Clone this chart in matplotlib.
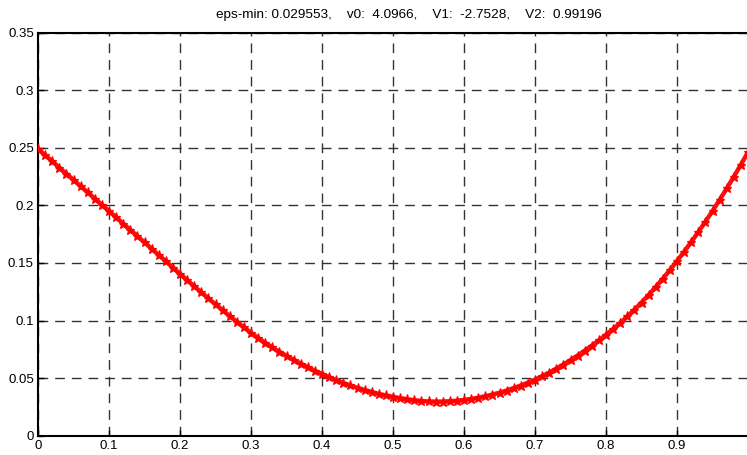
import matplotlib
matplotlib.use("Agg")
import matplotlib.pyplot as plt
import numpy as np

plt.rcParams['font.family'] = ['Liberation Sans', 'DejaVu Sans']

t_values = [i / 100 for i in range(101)]
eps_values = [
    0.2490, 0.2436, 0.2382, 0.2328, 0.2274, 0.2220, 0.2166, 0.2112, 0.2058, 0.2004,
    0.1950, 0.1896, 0.1841, 0.1787, 0.1732, 0.1678, 0.1623, 0.1569, 0.1514, 0.1460,
    0.1405, 0.1351, 0.1297, 0.1244, 0.1192, 0.1140, 0.1089, 0.1039, 0.0989, 0.0941,
    0.0893, 0.0849, 0.0806, 0.0766, 0.0729, 0.0693, 0.0659, 0.0626, 0.0594, 0.0564,
    0.0535, 0.0508, 0.0482, 0.0458, 0.0436, 0.0415, 0.0396, 0.0379, 0.0363, 0.0349,
    0.0337, 0.0326, 0.0316, 0.0308, 0.0301, 0.0297, 0.0296, 0.0296, 0.0299, 0.0304,
    0.0310, 0.0319, 0.0330, 0.0342, 0.0357, 0.0373, 0.0392, 0.0413, 0.0435, 0.0460,
    0.0486, 0.0516, 0.0548, 0.0582, 0.0618, 0.0656, 0.0696, 0.0738, 0.0782, 0.0828,
    0.0876, 0.0926, 0.0979, 0.1035, 0.1094, 0.1156, 0.1222, 0.1291, 0.1363, 0.1438,
    0.1516, 0.1597, 0.1681, 0.1768, 0.1858, 0.1951, 0.2047, 0.2146, 0.2248, 0.2353,
    0.2461,
]
x_ticks = [0, 0.1, 0.2, 0.3, 0.4, 0.5, 0.6, 0.7, 0.8, 0.9]
x_tick_labels = ['0', '0.1', '0.2', '0.3', '0.4', '0.5', '0.6', '0.7', '0.8', '0.9']
y_ticks = [0, 0.05, 0.1, 0.15, 0.2, 0.25, 0.3, 0.35]
y_tick_labels = ['0', '0.05', '0.1', '0.15', '0.2', '0.25', '0.3', '0.35']
title_text = 'eps-min: 0.029553,    v0:  4.0966,    V1:  -2.7528,    V2:  0.99196'

fig = plt.figure(figsize=(7.47, 4.55), dpi=100)
ax = fig.add_axes([38 / 747, (455 - 435.7) / 455, 710 / 747, (435.7 - 32.5) / 455])

ax.plot(t_values, eps_values, color='#ff1010', linewidth=3.2, solid_capstyle='round', zorder=3)
ax.plot(t_values, eps_values, linestyle='none', marker='*', markersize=6.5,
        color='red', markeredgewidth=0.9, zorder=4)

ax.set_xlim(0, 1.0)
ax.set_ylim(0, 0.35)
ax.set_xticks(x_ticks)
ax.set_xticklabels(x_tick_labels)
ax.set_yticks(y_ticks)
ax.set_yticklabels(y_tick_labels)
ax.tick_params(direction='in', length=4, width=1, labelsize=9.5, pad=3, colors='black')

ax.grid(True, color='0.2', linestyle=(0, (7, 5)), linewidth=1.0)
ax.set_axisbelow(True)

for side in ['left', 'bottom', 'top']:
    ax.spines[side].set_linewidth(1.5)
    ax.spines[side].set_color('black')
ax.spines['right'].set_visible(False)

fig.text(409 / 747, 1 - 15 / 455, title_text, ha='center', va='center', fontsize=9.7)

fig.savefig('out.png', dpi=100)
